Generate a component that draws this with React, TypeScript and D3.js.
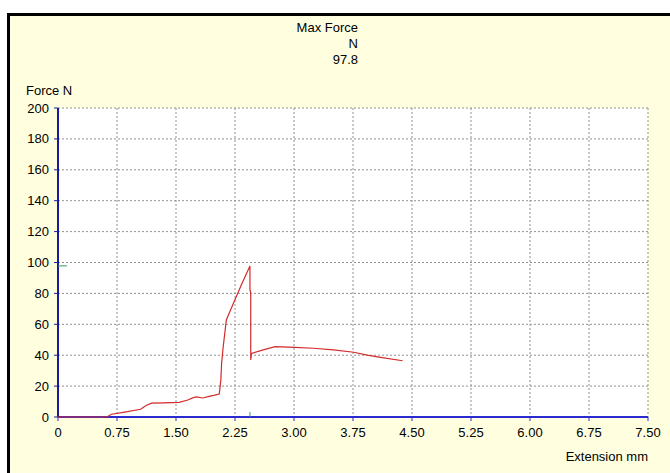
import React from "react";
import * as d3 from "d3";

const extension = [0, 0.62, 0.68, 0.83, 1.05, 1.12, 1.19, 1.35, 1.54, 1.65, 1.72, 1.76, 1.84, 1.92, 1.98, 2.05, 2.07, 2.08, 2.10, 2.14, 2.23, 2.33, 2.44, 2.44, 2.45, 2.45, 2.46, 2.61, 2.76, 3.01, 3.25, 3.50, 3.76, 3.93, 4.10, 4.38];
const force = [0, 0, 1.8, 3, 5, 7.5, 9, 9.2, 9.5, 11, 12.5, 13, 12.3, 13.4, 14, 14.9, 24, 35, 45.5, 62.8, 73.6, 85.4, 97.8, 82.6, 80, 36.9, 41.2, 43.4, 45.5, 45.1, 44.5, 43.4, 41.9, 40.1, 38.6, 36.4];
const xTicks = [0, 0.75, 1.5, 2.25, 3.0, 3.75, 4.5, 5.25, 6.0, 6.75, 7.5];
const xTickLabels = ["0", "0.75", "1.50", "2.25", "3.00", "3.75", "4.50", "5.25", "6.00", "6.75", "7.50"];
const yTicks = [0, 20, 40, 60, 80, 100, 120, 140, 160, 180, 200];
const titleLines = ["Max Force", "N", "97.8"];
const maxForce = 97.8;
const maxForceAt = 2.44;

export default function App() {
  const W = 670, H = 473;
  const left = 58, right = 648, top = 108, bottom = 417;
  const x = d3.scaleLinear().domain([0, 7.5]).range([left, right]);
  const y = d3.scaleLinear().domain([0, 200]).range([bottom, top]);
  const pts: [number, number][] = extension.map((e, i) => [e, force[i]]);
  const line = d3.line<[number, number]>().x(d => x(d[0])).y(d => y(d[1]));
  const font = "'Liberation Sans', Arial, sans-serif";
  return (
    <svg width={W} height={H} style={{ position: "absolute", left: 0, top: 0 }} fontFamily={font}>
      <rect x={0} y={0} width={W} height={H} fill="#ffffff" />
      <rect x={8.5} y={14.5} width={W + 20} height={H + 20} fill="#ffffe0" stroke="#000" strokeWidth={3} />
      <rect x={left} y={top} width={right - left} height={bottom - top} fill="#ffffff" />
      {yTicks.slice(1).map(t => (
        <line key={"gy" + t} x1={left} x2={right} y1={y(t)} y2={y(t)} stroke="#909090" strokeDasharray="2,2" strokeWidth={1} />
      ))}
      {xTicks.slice(1).map(t => (
        <line key={"gx" + t} x1={x(t)} x2={x(t)} y1={top} y2={bottom} stroke="#909090" strokeDasharray="2,2" strokeWidth={1} />
      ))}
      <line x1={left} x2={right} y1={bottom} y2={bottom} stroke="#2a2ad0" strokeWidth={2} />
      <line x1={left} x2={left} y1={top} y2={bottom} stroke="#1a1a9a" strokeWidth={2} />
      {yTicks.map(t => (
        <g key={"ty" + t}>
          <line x1={left - 4} x2={left} y1={y(t)} y2={y(t)} stroke="#1a1a9a" strokeWidth={1} />
          <text x={left - 9} y={y(t)} dy="0.35em" textAnchor="end" fontSize={13} fill="#000">{t}</text>
        </g>
      ))}
      {xTicks.map((t, i) => (
        <g key={"tx" + t}>
          <line x1={x(t)} x2={x(t)} y1={bottom} y2={bottom + 4} stroke="#2a2ad0" strokeWidth={1} />
          <text x={x(t)} y={bottom + 20} textAnchor="middle" fontSize={13} fill="#000">{xTickLabels[i]}</text>
        </g>
      ))}
      <line x1={left} x2={left + 9} y1={y(maxForce)} y2={y(maxForce)} stroke="#3a9a5a" strokeWidth={1} />
      <line x1={x(maxForceAt)} x2={x(maxForceAt)} y1={bottom - 5} y2={bottom} stroke="#3a9a5a" strokeWidth={1} />
      <path d={line(pts) || ""} fill="none" stroke="#d22b2b" strokeWidth={1.2} />
      {titleLines.map((s, i) => (
        <text key={s} x={358} y={32 + i * 16} textAnchor="end" fontSize={13}>{s}</text>
      ))}
      <text x={26} y={95} fontSize={13}>Force N</text>
      <text x={right} y={461} textAnchor="end" fontSize={13}>Extension mm</text>
    </svg>
  );
}
